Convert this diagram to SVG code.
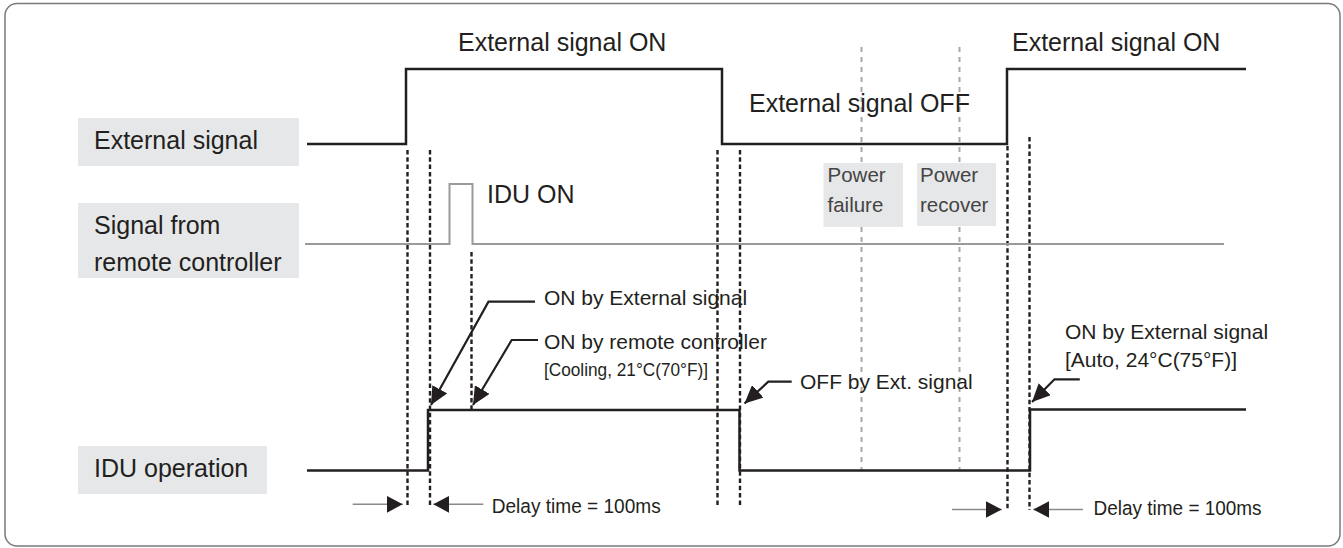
<svg xmlns="http://www.w3.org/2000/svg" width="1343" height="548" viewBox="0 0 1343 548">
<defs>
<style>
text{font-family:"Liberation Sans",Arial,Helvetica,sans-serif;fill:#231f20}
.big{font-size:25px}
.mid{font-size:21px}
.sm{font-size:18.5px}
.dl{font-size:20.5px}
.pw{font-size:20.5px;fill:#444}
.box{fill:#e6e7e8}
.wave{fill:none;stroke:#231f20;stroke-width:2.5}
.gwave{fill:none;stroke:#9a9a9a;stroke-width:2}
.dash{fill:none;stroke:#231f20;stroke-width:2.4;stroke-dasharray:4.5 2.8}
.gdash{fill:none;stroke:#a8a8a8;stroke-width:2;stroke-dasharray:5 5}
.ann{fill:none;stroke:#231f20;stroke-width:2.2}
.dly{fill:none;stroke:#8a8a8a;stroke-width:1.6}
</style>
<marker id="ah" markerUnits="userSpaceOnUse" markerWidth="18" markerHeight="17" viewBox="0 0 18 17" refX="18" refY="8.5" orient="auto">
<path d="M0,0 L18,8.5 L0,17 Z" fill="#231f20"/>
</marker>
<marker id="dh" markerUnits="userSpaceOnUse" markerWidth="16" markerHeight="17" viewBox="0 0 16 17" refX="16" refY="8.5" orient="auto">
<path d="M0,0 L16,8.5 L0,17 Z" fill="#231f20"/>
</marker>
</defs>
<rect x="5" y="3.5" width="1335" height="542.5" rx="12" ry="12" fill="#fff" stroke="#7a7a7a" stroke-width="1.5"/>

<g id="label-external">
<rect class="box" x="78" y="118" width="221" height="48"/>
<text class="big" x="94" y="149">External signal</text>
</g>
<g id="label-remote">
<rect class="box" x="78" y="203" width="221" height="75"/>
<text class="big" x="94" y="234">Signal from</text>
<text class="big" x="94" y="270.5">remote controller</text>
</g>
<g id="label-idu">
<rect class="box" x="78" y="446" width="189" height="48"/>
<text class="big" x="94" y="476.5">IDU operation</text>
</g>

<g id="guides">
<line class="gdash" x1="861.5" y1="47" x2="861.5" y2="470"/>
<line class="gdash" x1="959.5" y1="47" x2="959.5" y2="470"/>
<line class="dash" x1="407.5" y1="150" x2="407.5" y2="505"/>
<line class="dash" x1="430" y1="150" x2="430" y2="505"/>
<line class="dash" x1="471.5" y1="252" x2="471.5" y2="409"/>
<line class="dash" x1="717.5" y1="150" x2="717.5" y2="505"/>
<line class="dash" x1="740" y1="150" x2="740" y2="505"/>
<line class="dash" x1="1007.5" y1="146" x2="1007.5" y2="510"/>
<line class="dash" x1="1029.5" y1="137" x2="1029.5" y2="510"/>
</g>

<g id="power-failure">
<rect class="box" x="823.5" y="163" width="79.5" height="64"/>
<text class="pw" x="827.5" y="182">Power</text>
<text class="pw" x="827.5" y="212">failure</text>
</g>
<g id="power-recover">
<rect class="box" x="917" y="163" width="79" height="63"/>
<text class="pw" x="920" y="182">Power</text>
<text class="pw" x="920" y="212">recover</text>
</g>

<g id="waveforms">
<path class="wave" d="M307,144 H406 V69 H722 V144 H1007 V69 H1246"/>
<path class="gwave" d="M305,244 H449.5 V184 H472.5 V244 H1224"/>
<path class="wave" d="M307,470.5 H428 V410 H739.5 V470.5 H1030 V409.5 H1246"/>
</g>

<g id="state-labels">
<text class="big" x="458" y="50.5">External signal ON</text>
<text class="big" x="749" y="111.5">External signal OFF</text>
<text class="big" x="1012" y="50.5">External signal ON</text>
<text class="big" x="487" y="203">IDU ON</text>
</g>

<g id="connectors">
<path class="ann" d="M535,301.7 H488.5 L431,405" marker-end="url(#ah)"/>
<path class="ann" d="M538,340 H511.7 L473,405" marker-end="url(#ah)"/>
<path class="ann" d="M791.7,381.7 H768.3 L744.5,403.5" marker-end="url(#ah)"/>
<path class="ann" d="M1079.8,379.3 H1054.5 L1032,402" marker-end="url(#ah)"/>
<line class="dly" x1="352.7" y1="504.3" x2="402.7" y2="504.3" marker-end="url(#dh)"/>
<line class="dly" x1="483.3" y1="504.3" x2="433.3" y2="504.3" marker-end="url(#dh)"/>
<line class="dly" x1="952" y1="509.5" x2="1001.7" y2="509.5" marker-end="url(#dh)"/>
<line class="dly" x1="1083" y1="509.5" x2="1033.3" y2="509.5" marker-end="url(#dh)"/>
</g>

<g id="annotations">
<text class="mid" x="544" y="305">ON by External signal</text>
<text class="mid" x="544" y="349">ON by remote controller</text>
<text class="sm" x="544" y="376" textLength="164" lengthAdjust="spacingAndGlyphs">[Cooling, 21°C(70°F)]</text>
<text class="mid" x="800" y="389">OFF by Ext. signal</text>
<text class="mid" x="1065" y="339">ON by External signal</text>
<text class="mid" x="1065" y="366.5">[Auto, 24°C(75°F)]</text>
<text class="dl" x="491.7" y="512.7" textLength="169" lengthAdjust="spacingAndGlyphs">Delay time = 100ms</text>
<text class="dl" x="1093.6" y="515" textLength="168" lengthAdjust="spacingAndGlyphs">Delay time = 100ms</text>
</g>
</svg>
